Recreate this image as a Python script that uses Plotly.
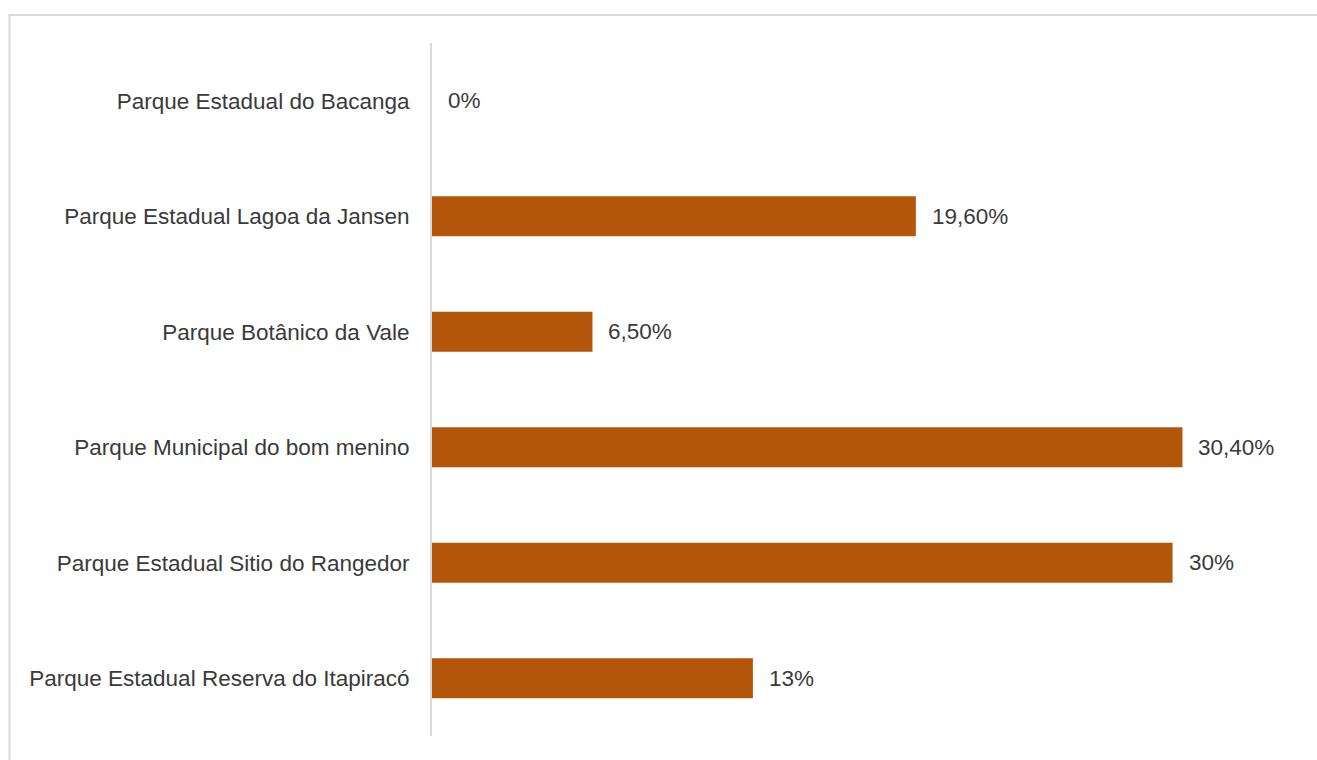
import plotly.graph_objects as go

# Parks (top to bottom) and their share of responses, in percent
parks = [
    "Parque Estadual do Bacanga",
    "Parque Estadual Lagoa da Jansen",
    "Parque Botânico da Vale",
    "Parque Municipal do bom menino",
    "Parque Estadual Sitio do Rangedor",
    "Parque Estadual Reserva do Itapiracó",
]
shares = [0, 19.6, 6.5, 30.4, 30, 13]

BAR_COLOR = "#B4560A"
TEXT_COLOR = "#3A3A3A"
GRID_GRAY = "#D9D9D9"
FONT = "Liberation Sans, Arial, sans-serif"
FONT_SIZE = 22.5


def pct_label(v):
    if float(v).is_integer():
        return f"{int(v)}%"
    return f"{v:.2f}%".replace(".", ",")


fig = go.Figure(
    go.Bar(
        x=shares,
        y=parks,
        orientation="h",
        marker=dict(color=BAR_COLOR, line=dict(width=0)),
        hoverinfo="skip",
    )
)

# value labels to the right of each bar
for park, v in zip(parks, shares):
    fig.add_annotation(
        x=v, y=park, text=pct_label(v),
        xanchor="left", yanchor="middle", xshift=14,
        showarrow=False,
        font=dict(family=FONT, size=FONT_SIZE, color=TEXT_COLOR),
    )

# light frame around the chart area
fig.add_shape(
    type="rect", xref="paper", yref="paper",
    x0=-0.489, x1=1.06, y0=-0.08, y1=1.0404,
    line=dict(color=GRID_GRAY, width=2), fillcolor="rgba(0,0,0,0)",
    layer="below",
)

fig.update_layout(
    width=1317, height=760,
    margin=dict(l=432, r=20.5, t=43, b=24),
    paper_bgcolor="white", plot_bgcolor="white",
    bargap=0.654,
    showlegend=False,
    font=dict(family=FONT, size=FONT_SIZE, color=TEXT_COLOR),
    xaxis=dict(
        range=[0, 35], visible=False, showgrid=False, zeroline=False,
        fixedrange=True,
    ),
    yaxis=dict(
        categoryorder="array", categoryarray=parks, autorange="reversed",
        showline=True, linecolor=GRID_GRAY, linewidth=2,
        showgrid=False, zeroline=False, ticks="",
        ticklabelstandoff=16,
        tickfont=dict(family=FONT, size=FONT_SIZE, color=TEXT_COLOR),
        fixedrange=True,
    ),
)

fig.write_html("out.html")
